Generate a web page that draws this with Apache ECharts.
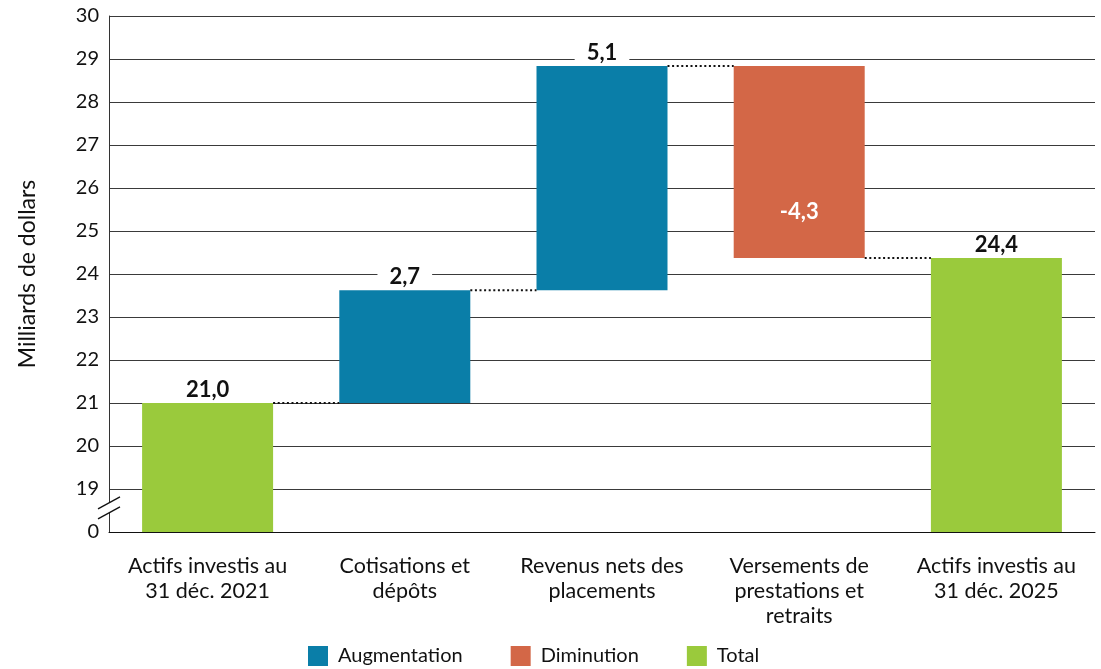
<!DOCTYPE html>
<html>
<head>
    <meta charset="utf-8" />
    <title>Actifs investis</title>
    <script src="https://cdn.jsdelivr.net/npm/echarts@6/dist/echarts.min.js"></script>
    <style>
        html, body { margin: 0; padding: 0; background: #fff; }
        #chart { width: 1101px; height: 669px; }
    </style>
</head>
<body>
    <div id="chart"></div>
</body>
</html>
<script>
    // données (milliards de dollars)
    var categories = ['Actifs investis au\n31 déc. 2021', 'Cotisations et\ndépôts', 'Revenus nets des\nplacements', 'Versements de\nprestations et\nretraits', 'Actifs investis au\n31 déc. 2025'];
    var baseValues = ['-', 21.0, 23.62, 24.37, '-'];
    var increaseValues = ['-', 2.62, 5.22, '-', '-'];
    var decreaseValues = ['-', '-', '-', 4.47, '-'];
    var totalValues = [21.0, '-', '-', '-', 24.37];
    var valueLabels = ['21,0', '2,7', '5,1', '-4,3', '24,4'];
    // niveaux des pointillés entre les barres
    var connectorLevels = [[0, 21.0], [1, 23.62], [2, 28.84], [3, 24.37]];
    var yTicks = [18, 19, 20, 21, 22, 23, 24, 25, 26, 27, 28, 29, 30];

    var BAR_W = 131;
    var FONT = 'Lato, "Open Sans", sans-serif';

    var chart = echarts.init(document.getElementById('chart'));

    var topLabel = {
        show: true,
        position: 'top',
        distance: 2,
        color: '#111',
        fontFamily: FONT,
        fontWeight: 'bold',
        fontSize: 22,
        backgroundColor: '#fff',
        padding: [1, 12, 0, 12],
        formatter: function (p) { return valueLabels[p.dataIndex]; }
    };

    var option = {
        animation: false,
        textStyle: { fontFamily: FONT },
        grid: { left: 109, right: 6, top: 16, bottom: 137, containLabel: false },
        legend: {
            data: ['Augmentation', 'Diminution', 'Total'],
            left: 303,
            top: 641,
            icon: 'rect',
            itemWidth: 20,
            itemHeight: 20,
            itemGap: 48,
            textStyle: { fontSize: 20, color: '#111', fontFamily: FONT, padding: [0, 0, 0, 5] },
            selectedMode: false
        },
        xAxis: {
            type: 'category',
            data: categories,
            axisLine: { lineStyle: { color: '#111', width: 1 } },
            axisTick: { show: false },
            axisLabel: {
                color: '#111',
                fontSize: 21.5,
                lineHeight: 25,
                margin: 22,
                interval: 0,
                fontFamily: FONT
            }
        },
        yAxis: {
            type: 'value',
            min: 18,
            max: 30,
            interval: 1,
            name: 'Milliards de dollars',
            nameLocation: 'middle',
            nameGap: 70,
            nameTextStyle: { fontSize: 23, color: '#111', fontFamily: FONT },
            axisLine: { show: true, lineStyle: { color: '#333', width: 1 } },
            axisTick: { show: false },
            splitLine: { lineStyle: { color: '#3a3a3a', width: 1.2 } },
            axisLabel: {
                color: '#111',
                fontSize: 20,
                margin: 10,
                fontFamily: FONT,
                formatter: function (v) { return v === yTicks[0] ? '0' : String(v); }
            }
        },
        series: [
            {
                name: 'base',
                type: 'bar',
                stack: 'w',
                barWidth: BAR_W,
                barGap: '-100%',
                itemStyle: { color: 'transparent' },
                emphasis: { disabled: true },
                data: baseValues
            },
            {
                name: 'Augmentation',
                type: 'bar',
                stack: 'w',
                barWidth: BAR_W,
                barGap: '-100%',
                itemStyle: { color: '#0a7ea8' },
                label: topLabel,
                data: increaseValues
            },
            {
                name: 'Diminution',
                type: 'bar',
                stack: 'w',
                barWidth: BAR_W,
                barGap: '-100%',
                itemStyle: { color: '#d36747' },
                label: {
                    show: true,
                    position: 'inside',
                    offset: [0, 50],
                    color: '#fff',
                    fontFamily: FONT,
                    fontWeight: 'bold',
                    fontSize: 22,
                    formatter: function (p) { return valueLabels[p.dataIndex]; }
                },
                data: decreaseValues
            },
            {
                name: 'Total',
                type: 'bar',
                stack: 't',
                barWidth: BAR_W,
                barGap: '-100%',
                itemStyle: { color: '#9aca3c' },
                label: topLabel,
                data: totalValues
            },
            {
                name: 'liens',
                type: 'custom',
                encode: { x: 0, y: 1 },
                z: 5,
                renderItem: function (params, api) {
                    var p0 = api.coord([api.value(0), api.value(1)]);
                    var p1 = api.coord([api.value(0) + 1, api.value(1)]);
                    var half = BAR_W / 2;
                    return {
                        type: 'line',
                        shape: { x1: p0[0] + half, y1: p0[1], x2: p1[0] - half, y2: p1[1] },
                        style: { stroke: '#111', lineWidth: 2, lineDash: [2, 2.6] }
                    };
                },
                data: connectorLevels
            },
            {
                name: 'coupure',
                type: 'custom',
                encode: { x: 0, y: 1 },
                z: 6,
                renderItem: function (params, api) {
                    var c = api.coord([0, 18.56]);
                    var band = api.size([1, 0])[0];
                    var x = c[0] - band / 2;
                    var y = c[1];
                    return {
                        type: 'group',
                        children: [
                            {
                                type: 'polygon',
                                shape: { points: [[x - 11, y + 1], [x + 11, y - 11], [x + 11, y - 1], [x - 11, y + 11]] },
                                style: { fill: '#fff' }
                            },
                            {
                                type: 'line',
                                shape: { x1: x - 11, y1: y + 1, x2: x + 11, y2: y - 11 },
                                style: { stroke: '#111', lineWidth: 1.3 }
                            },
                            {
                                type: 'line',
                                shape: { x1: x - 11, y1: y + 11, x2: x + 11, y2: y - 1 },
                                style: { stroke: '#111', lineWidth: 1.3 }
                            }
                        ]
                    };
                },
                data: [[0, 18.56]]
            }
        ]
    };

    chart.setOption(option);
</script>
